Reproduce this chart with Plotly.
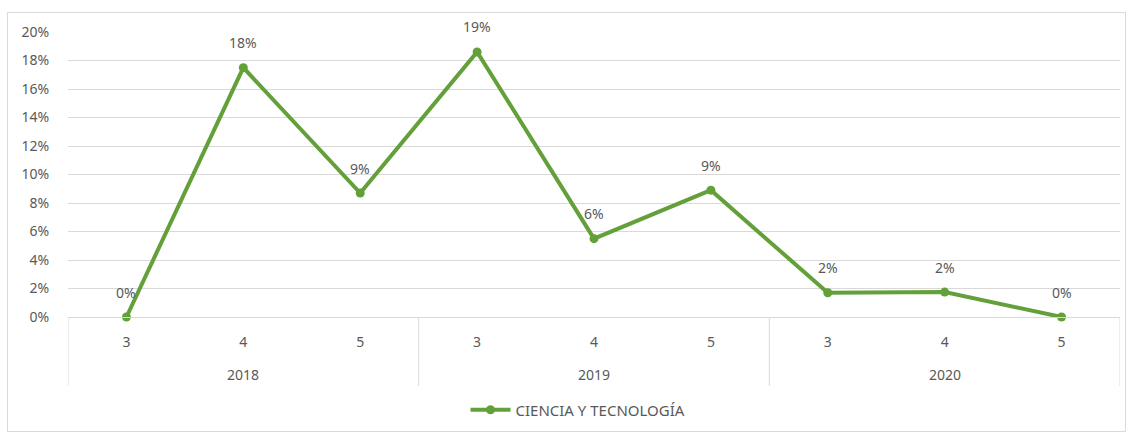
import plotly.graph_objects as go

years = ["2018", "2018", "2018", "2019", "2019", "2019", "2020", "2020", "2020"]
months = ["3", "4", "5", "3", "4", "5", "3", "4", "5"]
values = [0.0, 0.175, 0.087, 0.186, 0.055, 0.089, 0.017, 0.0175, 0.0]
series_name = "CIENCIA Y TECNOLOGÍA"

W, H = 1126, 432
ml, mr, mt, mb = 68, 6, 32, 115
pw, ph = W - ml - mr, H - mt - mb
GREEN = "#64a03a"
GRAY = "#d9d9d9"
TXT = "#595959"
FONT = "Noto Sans"

def px2paper_x(px):
    return (px - ml) / pw

def px2paper_y(py):
    return (H - mb - py) / ph

idx = list(range(len(values)))
labels = [f"{round(v * 100):.0f}%" for v in values]

fig = go.Figure()
fig.add_trace(go.Scatter(
    x=idx, y=values, mode="lines+markers",
    name=series_name,
    line=dict(color=GREEN, width=4),
    marker=dict(color=GREEN, size=9),
    cliponaxis=False,
))

# data labels
for i, v, t in zip(idx, values, labels):
    fig.add_annotation(x=i, y=v, text=t, showarrow=False, yshift=25,
                       font=dict(size=14, color=TXT, family=FONT))

# group labels and dividers
groups = []
for i, y in enumerate(years):
    if not groups or groups[-1][0] != y:
        groups.append([y, i, i])
    else:
        groups[-1][2] = i
for g, a, b in groups:
    fig.add_annotation(x=(a + b) / 2, y=px2paper_y(374), yref="paper", text=g, showarrow=False,
                       font=dict(size=14, color=TXT, family=FONT), yanchor="middle")
bounds = [groups[0][1] - 0.5] + [b + 0.5 for _, _, b in groups]
for xb in bounds:
    fig.add_shape(type="line", x0=xb, x1=xb, xref="x", yref="paper", y0=0, y1=px2paper_y(386),
                  line=dict(color=GRAY, width=1))

fig.update_layout(
    width=W, height=H,
    margin=dict(l=ml, r=mr, t=mt, b=mb),
    paper_bgcolor="white", plot_bgcolor="white",
    font=dict(family=FONT, color=TXT, size=14),
    showlegend=True,
    legend=dict(orientation="h", x=px2paper_x(578), xanchor="center", y=px2paper_y(410), yanchor="middle",
                font=dict(size=15, color=TXT, family=FONT), itemwidth=40),
    yaxis=dict(range=[0, 0.2], dtick=0.02, tickformat=".0%", showgrid=True, gridcolor=GRAY,
               gridwidth=1, zeroline=False, showline=False, ticks="outside", ticklen=15,
               tickcolor="rgba(0,0,0,0)", fixedrange=True),
    xaxis=dict(range=[-0.5, len(values) - 0.5], tickmode="array", tickvals=idx, ticktext=months,
               showgrid=False, showline=True, linecolor=GRAY, zeroline=False,
               ticks="outside", ticklen=12, tickcolor="rgba(0,0,0,0)", fixedrange=True),
)

fig.add_shape(type="rect", xref="paper", yref="paper",
              x0=px2paper_x(7.5), x1=px2paper_x(1125.5), y0=px2paper_y(431.5), y1=px2paper_y(12.5),
              line=dict(color=GRAY, width=1), fillcolor="rgba(0,0,0,0)", layer="below")

fig.write_html("out.html", config={"displayModeBar": False},
               post_script="document.body.style.margin='0';")
